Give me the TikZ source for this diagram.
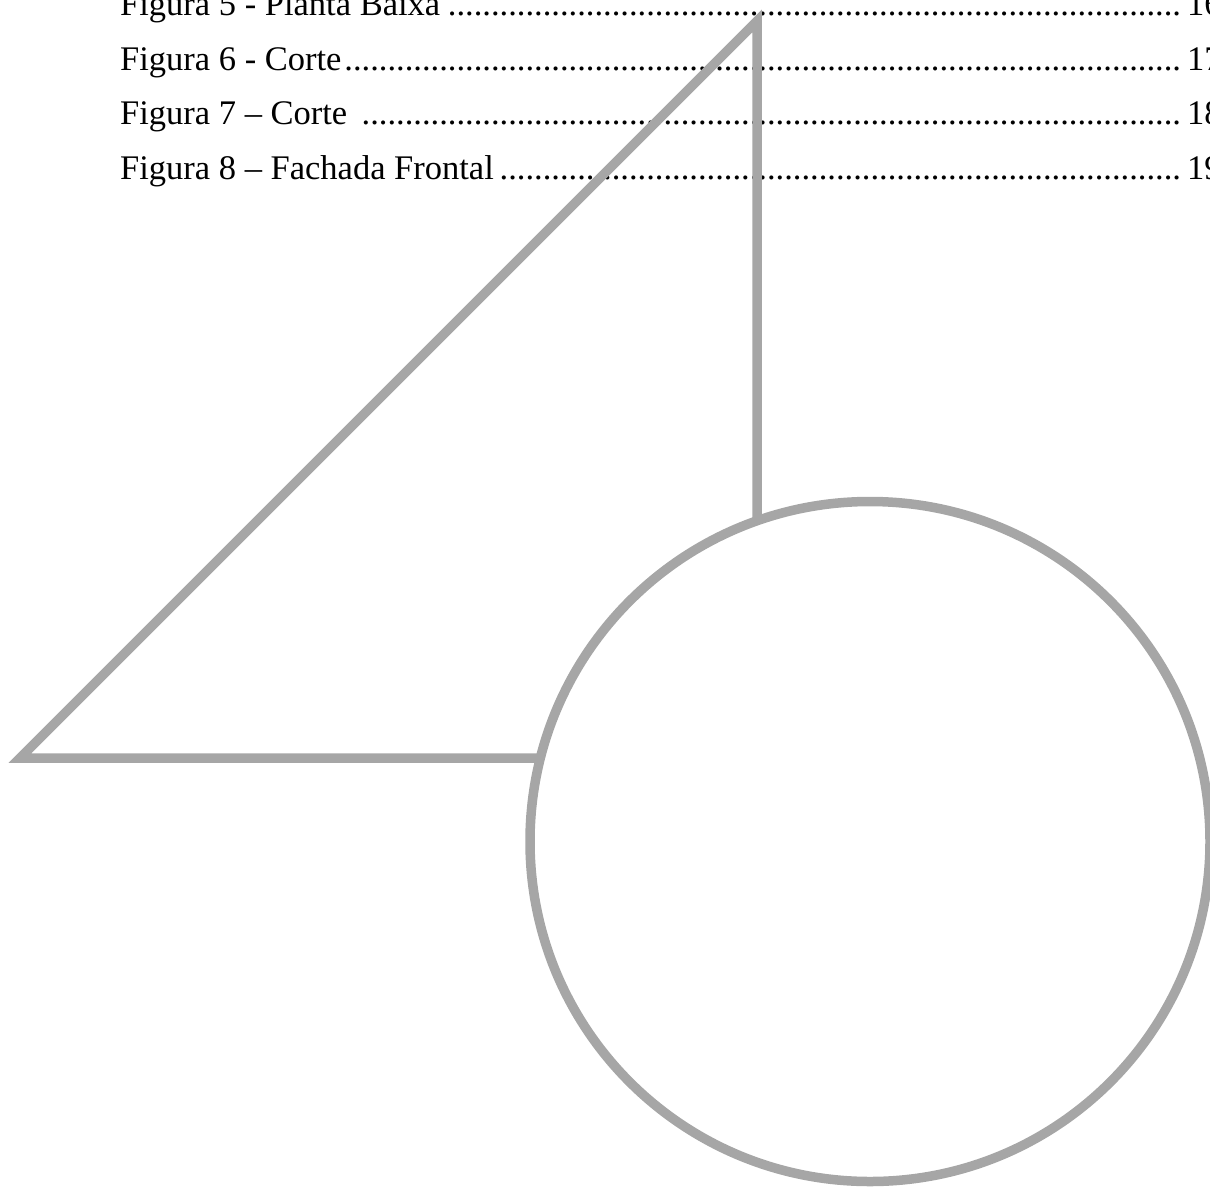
\documentclass[tikz,border=0pt]{standalone}
\usepackage{fontspec}
\setmainfont{Liberation Serif}
\definecolor{shapegray}{RGB}{166,166,166}
\newcommand{\tocline}[1]{\hbox to 1066pt{#1\leaders\hbox to 0.25em{\hss.\hss}\hfill}}
\begin{document}
\begin{tikzpicture}[x=1pt,y=-1pt,
  entry/.style={inner sep=0pt,anchor=base west,font=\fontsize{34.5}{40}\selectfont},
  shape line/.style={draw=shapegray,line width=9.5pt}]
\useasboundingbox (0,0) rectangle (1210,1187);
% table of figures
\node[entry] (e5) at (120,15) {\tocline{Figura 5 - Planta Baixa}};
\node[entry] (p5) at (1187,15) {16};
\node[entry] (e6) at (120,70) {\tocline{Figura 6 - Corte}};
\node[entry] (p6) at (1187,70) {17};
\node[entry] (e7) at (120,124.5) {\tocline{Figura 7 – Corte }};
\node[entry] (p7) at (1187,124.5) {18};
\node[entry] (e8) at (120,179) {\tocline{Figura 8 – Fachada Frontal}};
\node[entry] (p8) at (1187,179) {19};
% shapes
\draw[shape line,line join=miter] (540.4,758) -- (20,758) -- (757,21) -- (757,520.8);
\draw[shape line] (870,841.5) circle[radius=340];
\end{tikzpicture}
\end{document}
